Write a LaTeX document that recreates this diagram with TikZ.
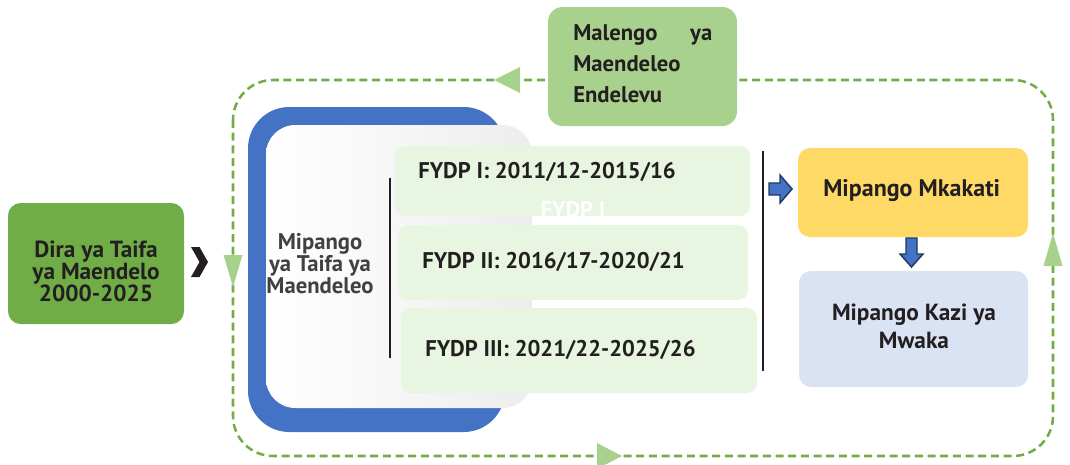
\documentclass[tikz,border=0pt]{standalone}
\usepackage{fontspec}
\setmainfont{PT Sans}
\usetikzlibrary{shapes.geometric}
\definecolor{diragreen}{HTML}{70AD47}
\definecolor{lightgreen}{HTML}{A9D18E}
\definecolor{fydpfill}{HTML}{E7F5E1}
\definecolor{mkfill}{HTML}{FFD966}
\definecolor{kazifill}{HTML}{DAE3F3}
\definecolor{frameblue}{HTML}{4472C4}
\definecolor{darkblue}{HTML}{203864}
\definecolor{ink}{HTML}{231F20}
\definecolor{graytxt}{HTML}{404040}
\definecolor{panelgray}{HTML}{EDEDED}
\begin{document}
\begin{tikzpicture}[x=0.75pt,y=-0.75pt,
  txt/.style={font=\fontsize{17}{16.5}\selectfont\bfseries, text=ink, inner sep=0pt},
  box/.style={inner sep=0pt, draw=none},
  loop/.style={draw=diragreen, line width=1.9pt, dash pattern=on 6pt off 3.5pt, rounded corners=30pt},
  tri/.style={fill=lightgreen, draw=none},
  blockarrow/.style={fill=frameblue, draw=darkblue, line width=1.1pt, line join=miter}]
\useasboundingbox (0,0) rectangle (1070,464);

% dashed loop
\draw[loop] (233,80) rectangle (1053,456);
\fill[tri] (494,80) -- (520,67) -- (520,93) -- cycle;
\fill[tri] (233,287) -- (223.5,255) -- (242.5,255) -- cycle;
\fill[tri] (622,456) -- (597,443) -- (597,469) -- cycle;
\fill[tri] (1053,233) -- (1043.5,266) -- (1062.5,266) -- cycle;

% Dira
\node[box, fill=diragreen, rounded corners=9.5pt, minimum width=132pt, minimum height=90.75pt] (dira) at (96,263.5) {};
\node[txt, align=center, font=\fontsize{17.5}{16.5}\selectfont\bfseries] (diratext) at (96,271) {Dira ya Taifa\\ya Maendelo\\2000-2025};
\fill[ink] (191,247) -- (199.5,247) -- (208,262) -- (199.5,277) -- (191,277) -- (199.5,262) -- cycle;

% Malengo
\node[box, fill=lightgreen, rounded corners=11pt, minimum width=141.75pt, minimum height=89.25pt] (malengo) at (642.5,66.5) {};
\node[txt, align=left, anchor=north west, font=\fontsize{17}{23.25}\selectfont\bfseries] (malengotext) at (573,24) {\hbox to 104.25pt{Malengo\hfill ya}\\Maendeleo\\Endelevu};

% blue frame and panel
\node[box, fill=frameblue, rounded corners=31pt, minimum width=192.75pt, minimum height=243.75pt] (frame) at (376.5,269.5) {};
\node[box, left color=white, right color=panelgray, rounded corners=22pt, minimum width=199.5pt, minimum height=212.25pt] (panel) at (399,266.5) {};
\node[txt, align=center, text=graytxt] (paneltext) at (320,263.5) {Mipango\\ya Taifa ya\\Maendeleo};

% FYDP boxes
\node[box, fill=fydpfill, rounded corners=7.5pt, minimum width=266.25pt, minimum height=52.5pt] (fydp1) at (572.5,181) {};
\node[txt, anchor=west] (fydp1text) at (418,172) {FYDP I: 2011/12-2015/16};
\node[txt, anchor=base, text=white] (ghost) at (573,217) {FYDP I};
\node[box, fill=fydpfill, rounded corners=7.5pt, minimum width=262.5pt, minimum height=56.25pt] (fydp2) at (573,262.5) {};
\node[txt, anchor=west] (fydp2text) at (422,262) {FYDP II: 2016/17-2020/21};
\node[box, fill=fydpfill, rounded corners=7.5pt, minimum width=267pt, minimum height=63.75pt] (fydp3) at (579,350.5) {};
\node[txt, anchor=west] (fydp3text) at (425,350) {FYDP III: 2021/22-2025/26};

% brackets
\coordinate (lbtop) at (390,178);
\coordinate (lbbot) at (390,358);
\coordinate (rbtop) at (763,151);
\coordinate (rbbot) at (763,371);
\draw[ink, line width=0.9pt] (lbtop) -- (lbbot);
\draw[ink, line width=0.9pt] (rbtop) -- (rbbot);

% right column
\node[box, fill=mkfill, rounded corners=9pt, minimum width=172.5pt, minimum height=66.75pt] (mkakati) at (913,192.5) {};
\node[txt, anchor=west, font=\fontsize{18}{18}\selectfont\bfseries] (mktext) at (823,191) {Mipango Mkakati};
\node[box, fill=kazifill, rounded corners=9pt, minimum width=171.75pt, minimum height=87pt] (kazi) at (913.5,329) {};
\node[txt, align=center, font=\fontsize{17.5}{21}\selectfont\bfseries] (kazitext) at (914,326) {Mipango Kazi ya\\Mwaka};

\filldraw[blockarrow] (769,183) -- (780,183) -- (780,175) -- (792,189) -- (780,203) -- (780,195) -- (769,195) -- cycle;
\filldraw[blockarrow] (906,238) -- (917,238) -- (917,254) -- (923,254) -- (911.5,267) -- (900,254) -- (906,254) -- cycle;
\end{tikzpicture}
\end{document}
